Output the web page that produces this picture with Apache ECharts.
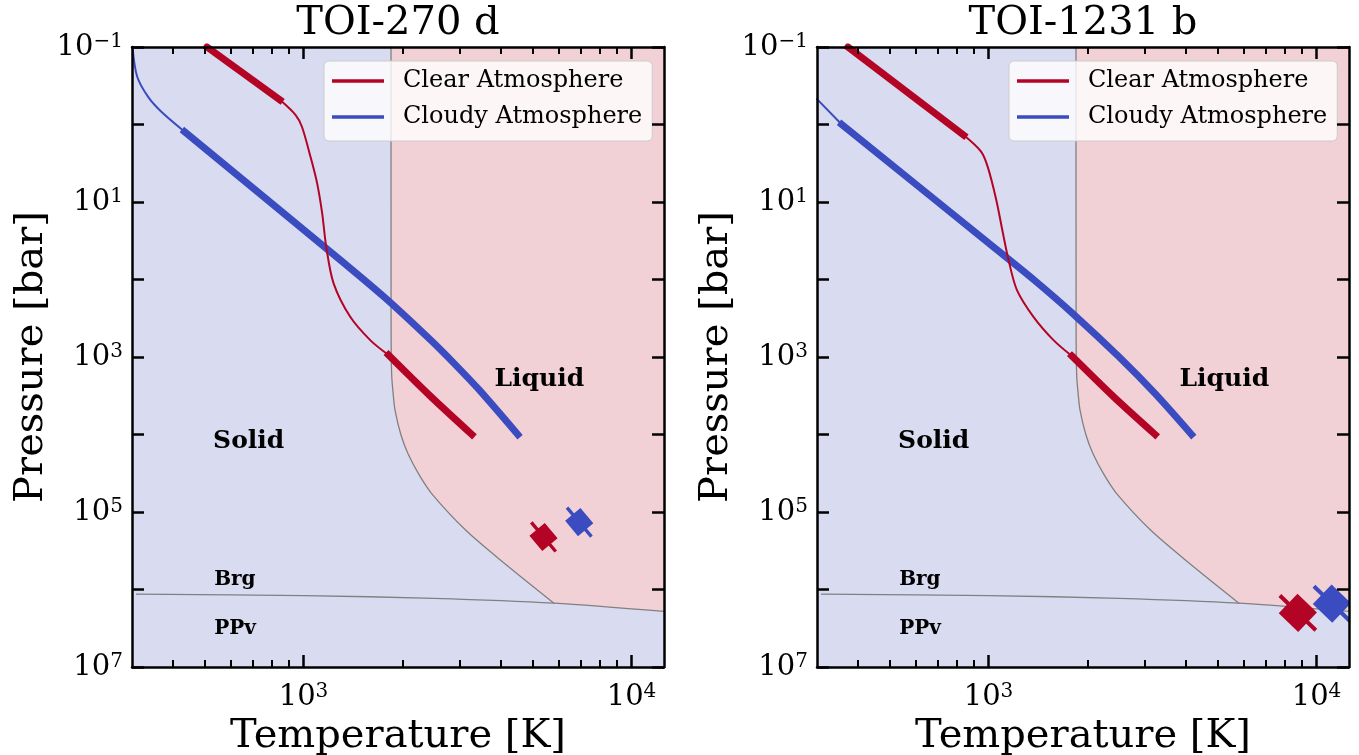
<!DOCTYPE html>
<html>
<head>
<meta charset="utf-8">
<title>TOI-270 d / TOI-1231 b</title>
<script src="https://cdn.jsdelivr.net/npm/echarts@6/dist/echarts.min.js"></script>
<style>
  html, body { margin: 0; padding: 0; background: #fff; }
  #chart { width: 1359px; height: 755px; }
</style>
</head>
<body>
<div id="chart"></div>
<script>
// ticks
const xMajorTicks = [1000, 10000];
const xMinorTicks = [400, 500, 600, 700, 800, 900, 2000, 3000, 4000, 5000, 6000, 7000, 8000, 9000];
const yTicks = [0.1, 1, 10, 100, 1e3, 1e4, 1e5, 1e6, 1e7];
const yLabelTicks = [0.1, 10, 1e3, 1e5, 1e7];

// phase boundaries, [T (K), P (bar)], same for both planets
const melting = [[1848, 0.1], [1849, 300], [1851, 900], [1858, 1800], [1875, 2900], [1901, 4850],
  [1980, 10000], [2081, 17600], [2250, 33000], [2458, 57800], [3131, 173600], [4111, 464600], [5800, 1.5e6]];
const brgPpv = [[310, 1.15e6], [1000, 1.2e6], [2500, 1.3e6], [5800, 1.5e6], [12560, 1.92e6]];

// TOI-270 d
const clear270Top = [[508, 0.1], [847, 0.48]];
const clear270Mid = [[847, 0.48], [945, 0.75], [989, 1.07], [1050, 2.6], [1100, 5.7], [1140, 14],
  [1173, 38], [1235, 112], [1388, 303], [1597, 605], [1816, 944]];
const clear270Deep = [[1816, 944], [2418, 3105], [3260, 10000]];
const cloudy270Top = [[301, 0.1], [311, 0.24], [336, 0.44], [368, 0.68], [434, 1.24]];
const cloudy270Deep = [[434, 1.24], [1189, 41.6], [1760, 168], [2441, 605], [2911, 1272], [3439, 2678], [4500, 10000]];
const surface270 = [[5391, 2.1e5], [6927, 1.35e5]]; // clear, cloudy

// TOI-1231 b
const clear1231Top = [[373, 0.1], [840, 1.37]];
const clear1231Mid = [[840, 1.37], [949, 2.24], [994, 3.5], [1056, 9.4], [1106, 25], [1151, 56],
  [1221, 137], [1371, 303], [1578, 605], [1796, 973]];
const clear1231Deep = [[1796, 973], [2395, 3200], [3220, 10000]];
const cloudy1231Top = [[300, 0.47], [357, 1.0]];
const cloudy1231Deep = [[357, 1.0], [1063, 41.6], [1376, 101], [1804, 273], [2498, 994], [3216, 2951], [4158, 10000]];
const surface1231 = [[8770, 2.0e6], [11140, 1.52e6]];

// phase labels: text, T, P
const phaseLabels = [['Solid', 530, 12200], ['Liquid', 3821, 1960], ['Brg', 534, 7.45e5], ['PPv', 534, 3.2e6]];

const FONT = 'DejaVu Serif';
const RED = '#b40426';
const BLUE = '#3b4cc0';
const SOLID_BG = '#d9dcf1';
const LIQUID_BG = '#f1d1d6';
const X_MIN = 300, X_MAX = 12560, Y_MIN = 0.1, Y_MAX = 1e7;

const grids = [
  { left: 132, top: 47, width: 532, height: 620 },
  { left: 817, top: 47, width: 532, height: 620 }
];

const panels = [
  { title: 'TOI-270 d', clearTop: clear270Top, clearMid: clear270Mid, clearDeep: clear270Deep,
    cloudyTop: cloudy270Top, cloudyDeep: cloudy270Deep, surface: surface270,
    mark: { body: 20, len: 38, stub: 3.4, rot: 40 } },
  { title: 'TOI-1231 b', clearTop: clear1231Top, clearMid: clear1231Mid, clearDeep: clear1231Deep,
    cloudyTop: cloudy1231Top, cloudyDeep: cloudy1231Deep, surface: surface1231,
    mark: { body: 27, len: 50, stub: 4, rot: 46 } }
];

function supLabel(v) {
  const e = Math.round(Math.log10(v));
  return '{b|10}{s|' + (e < 0 ? '\u2212' + (-e) : e) + '}';
}
const labelRich = {
  b: { fontFamily: FONT, fontSize: 29, lineHeight: 30, color: '#000' },
  s: { fontFamily: FONT, fontSize: 20, lineHeight: 18, verticalAlign: 'top', color: '#000' }
};

const spine = { show: true, onZero: false, lineStyle: { color: '#000', width: 2.5 } };
const majorTick = (vals) => ({ show: true, inside: true, length: 12, customValues: vals, lineStyle: { color: '#000', width: 2.5 } });
const minorTick = { show: true, inside: true, length: 7, customValues: xMinorTicks, lineStyle: { color: '#000', width: 2 } };

function xAxes(g) {
  const base = { gridIndex: g, type: 'log', logBase: 10, min: X_MIN, max: X_MAX, z: 10,
    splitLine: { show: false }, axisLine: { show: false, onZero: false }, axisLabel: { show: false } };
  return [
    Object.assign({}, base, { position: 'bottom', axisLine: spine, axisTick: majorTick(xMajorTicks),
      axisLabel: { show: true, customValues: xMajorTicks, margin: 15, formatter: supLabel, rich: labelRich },
      name: 'Temperature [K]', nameLocation: 'middle', nameGap: 48,
      nameTextStyle: { fontFamily: FONT, fontSize: 40, color: '#000' } }),
    Object.assign({}, base, { position: 'bottom', axisTick: minorTick }),
    Object.assign({}, base, { position: 'top', axisLine: spine, axisTick: majorTick(xMajorTicks) }),
    Object.assign({}, base, { position: 'top', axisTick: minorTick })
  ];
}

function yAxes(g) {
  const base = { gridIndex: g, type: 'log', logBase: 10, min: Y_MIN, max: Y_MAX, inverse: true, z: 10,
    splitLine: { show: false }, axisLine: spine, axisTick: majorTick(yTicks), axisLabel: { show: false } };
  return [
    Object.assign({}, base, { position: 'left',
      axisLabel: { show: true, customValues: yLabelTicks, margin: 9, formatter: supLabel, rich: labelRich },
      name: 'Pressure [bar]', nameLocation: 'middle', nameGap: 80, nameRotate: 90,
      nameTextStyle: { fontFamily: FONT, fontSize: 40, color: '#000' } }),
    Object.assign({}, base, { position: 'right' })
  ];
}

function panelSeries(g, p) {
  const xi = g * 4, yi = g * 2;
  const line = (name, data, color, width, smooth) => ({
    name, type: 'line', xAxisIndex: xi, yAxisIndex: yi, data, symbol: 'none', showSymbol: false,
    smooth: smooth || false, itemStyle: { color }, lineStyle: { color, width, cap: 'square' },
    silent: true, z: 3
  });
  const m = p.mark;
  const h = m.body / 2, s = m.len / 2, w = m.stub / 2;
  // square body with a thin bar through it, drawn upright then rotated
  const markPath = 'M' + (-h) + ',' + (-h) + 'L' + h + ',' + (-h) + 'L' + h + ',' + h + 'L' + (-h) + ',' + h + 'Z' +
    'M' + (-w) + ',' + (-s) + 'L' + w + ',' + (-s) + 'L' + w + ',' + s + 'L' + (-w) + ',' + s + 'Z';
  const markColors = [RED, BLUE];
  return [
    {
      type: 'custom', xAxisIndex: xi, yAxisIndex: yi, silent: true, z: 1, clip: true,
      data: [[1000, 1]],
      renderItem: (params, api) => {
        const pts = melting.map(d => api.coord(d));
        const tail = brgPpv.filter(d => d[0] > melting[melting.length - 1][0]);
        tail.forEach(d => pts.push(api.coord(d)));
        pts.push(api.coord([X_MAX, Y_MIN]));
        return { type: 'polygon', shape: { points: pts }, style: { fill: LIQUID_BG } };
      }
    },
    line('melt', melting, '#808080', 1.3, 0.3),
    line('brg', brgPpv, '#808080', 1.3, 0.3),
    line('Cloudy Atmosphere', p.cloudyTop, BLUE, 2, 0.3),
    line('Cloudy Atmosphere', p.cloudyDeep, BLUE, 7, 0.3),
    line('Clear Atmosphere', p.clearTop, RED, 7),
    line('Clear Atmosphere', p.clearMid, RED, 2, 0.3),
    line('Clear Atmosphere', p.clearDeep, RED, 7, 0.3),
    {
      type: 'custom', xAxisIndex: xi, yAxisIndex: yi, silent: true, z: 5, clip: true,
      data: p.surface,
      renderItem: (params, api) => {
        const pt = api.coord([api.value(0), api.value(1)]);
        return {
          type: 'path', x: pt[0], y: pt[1], rotation: m.rot * Math.PI / 180,
          shape: { pathData: markPath, x: -h, y: -s, width: m.body, height: m.len, layout: 'cover' },
          style: { fill: markColors[params.dataIndex] }
        };
      }
    },
    {
      type: 'custom', xAxisIndex: xi, yAxisIndex: yi, silent: true, z: 4,
      data: phaseLabels.map(d => [d[1], d[2]]),
      renderItem: (params, api) => {
        const pt = api.coord([api.value(0), api.value(1)]);
        const text = phaseLabels[params.dataIndex][0];
        const size = (text === 'Brg' || text === 'PPv') ? 20 : 25;
        return { type: 'text', x: pt[0], y: pt[1],
          style: { text, font: 'bold ' + size + 'px "DejaVu Serif"', fill: '#000', align: 'left', verticalAlign: 'middle' } };
      }
    }
  ];
}

const chart = echarts.init(document.getElementById('chart'), null, { renderer: 'canvas' });

chart.setOption({
  animation: false,
  backgroundColor: '#fff',
  grid: grids.map(gr => Object.assign({ show: true, backgroundColor: SOLID_BG, borderWidth: 0, outerBoundsMode: 'none' }, gr)),
  xAxis: [].concat(xAxes(0), xAxes(1)),
  yAxis: [].concat(yAxes(0), yAxes(1)),
  legend: grids.map(gr => ({
    data: ['Clear Atmosphere', 'Cloudy Atmosphere'],
    orient: 'vertical', left: gr.left + 192, top: 61,
    icon: 'rect', itemWidth: 52, itemHeight: 3.5, itemGap: 10,
    backgroundColor: 'rgba(255,255,255,0.8)', borderColor: '#cccccc', borderWidth: 1, borderRadius: 5,
    padding: [7, 10, 11, 8], selectedMode: false,
    textStyle: { fontFamily: FONT, fontSize: 24, color: '#000', lineHeight: 26, padding: [0, 0, 0, 14] }
  })),
  graphic: panels.map((p, g) => ({
    type: 'text', x: grids[g].left + grids[g].width / 2, y: 24,
    style: { text: p.title, font: '40px "DejaVu Serif"', fill: '#000', align: 'center', verticalAlign: 'middle' }
  })),
  series: [].concat(panelSeries(0, panels[0]), panelSeries(1, panels[1]))
});
</script>
</body>
</html>
